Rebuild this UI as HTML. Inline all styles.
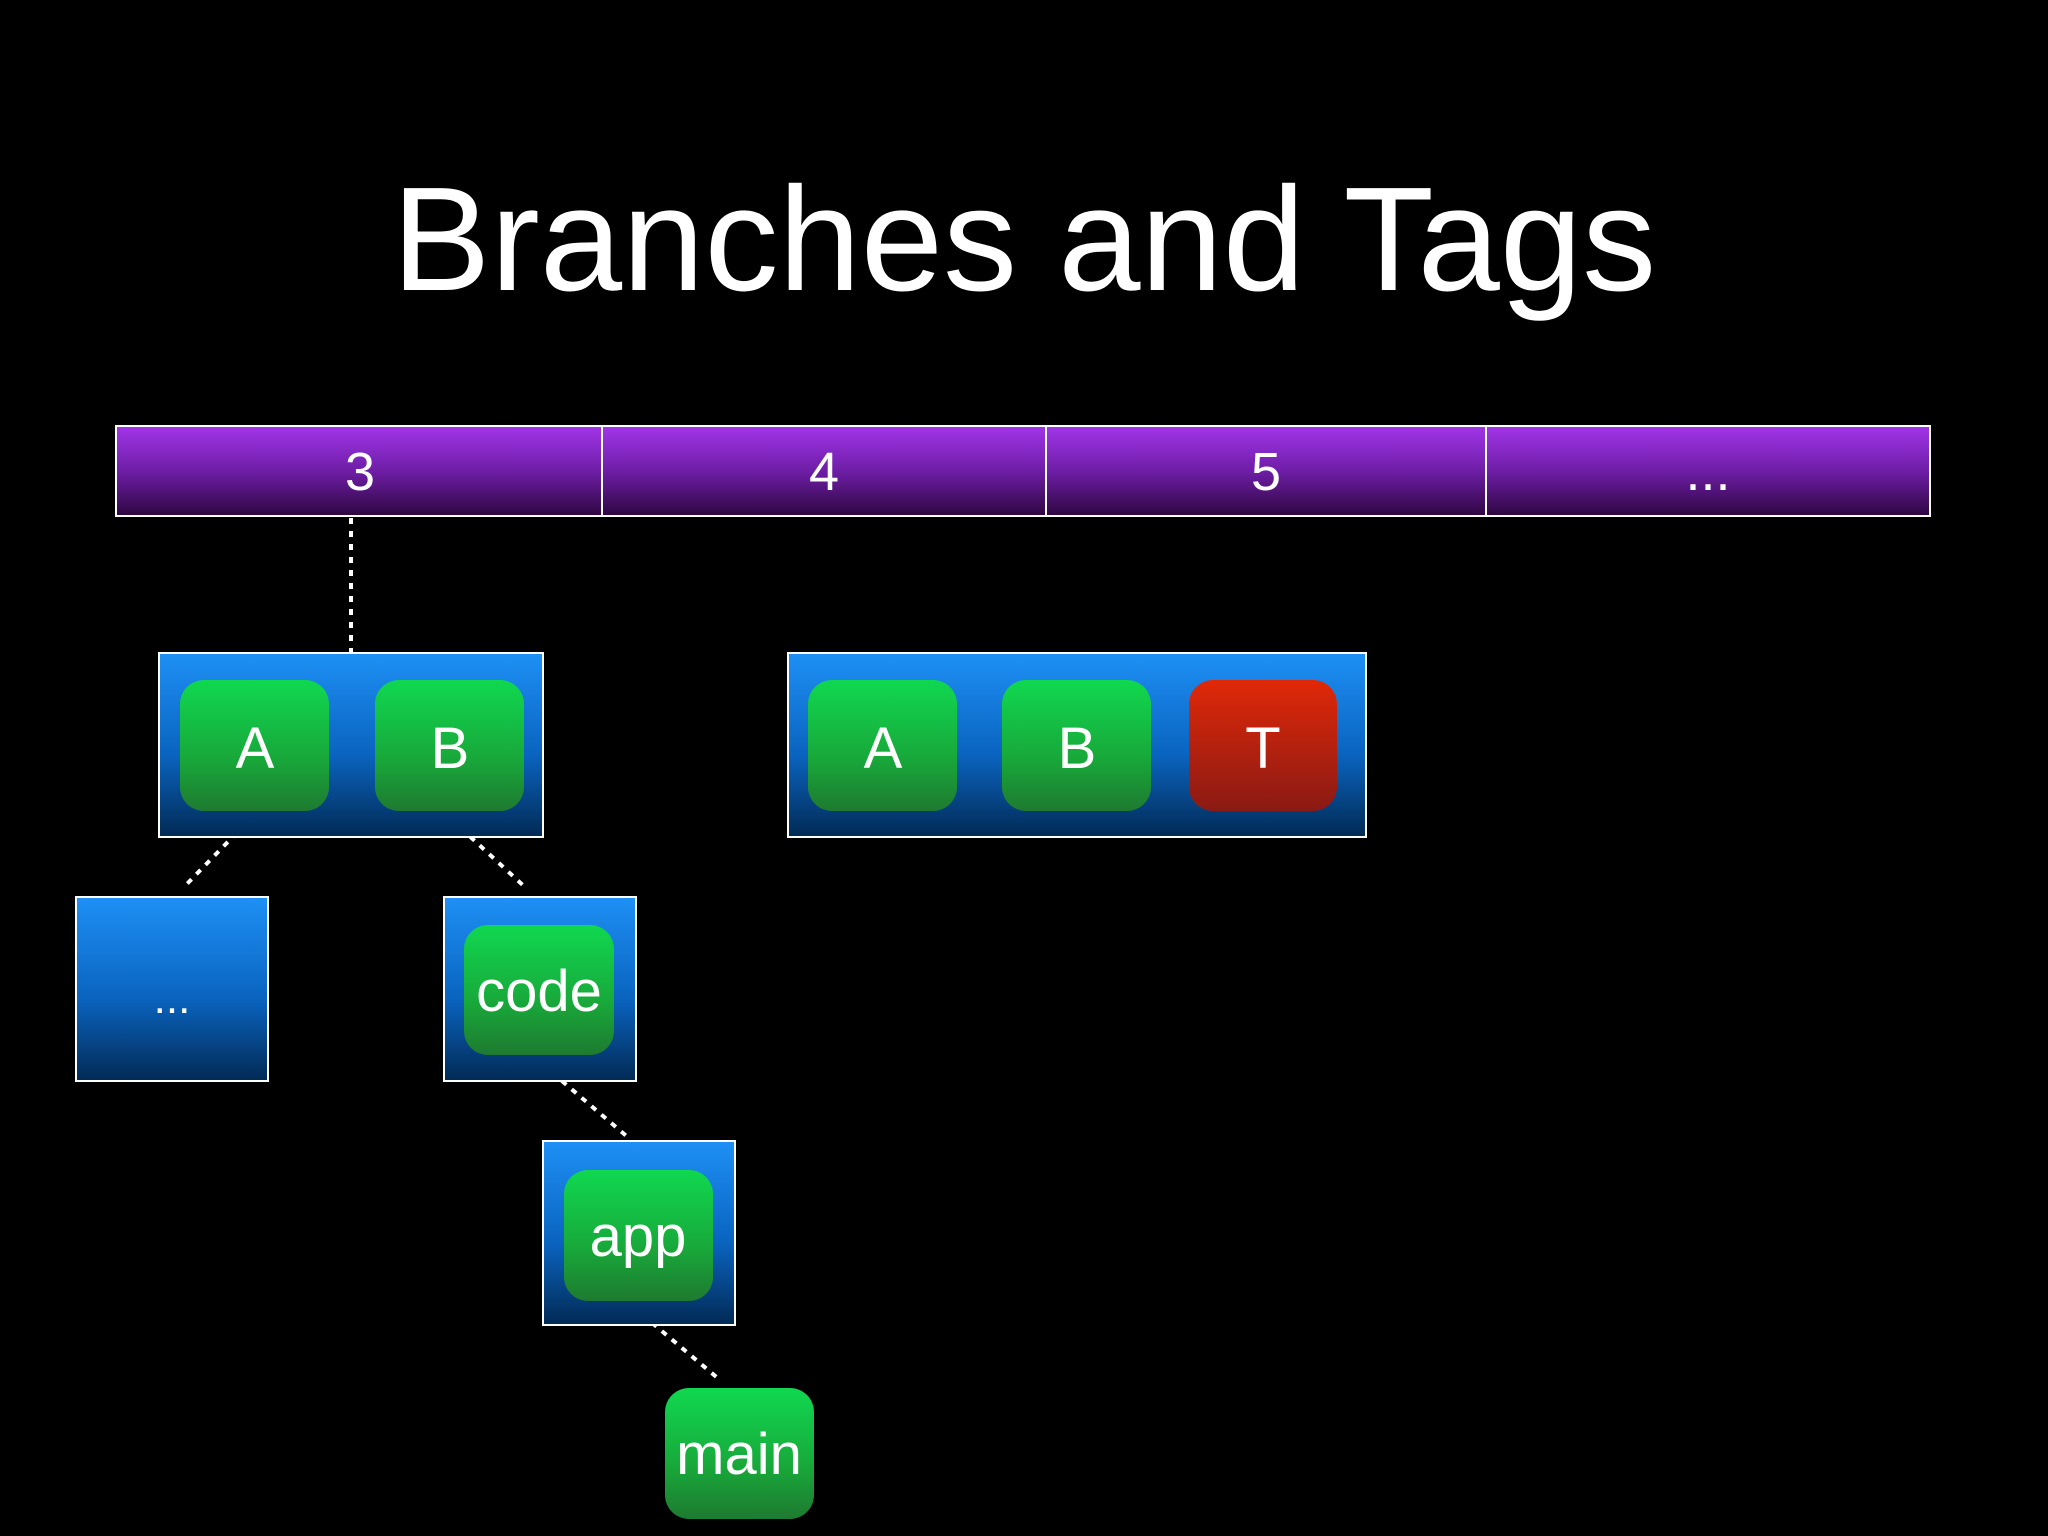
<!DOCTYPE html>
<html><head><meta charset="utf-8"><style>
html,body{margin:0;padding:0;background:#000;}
svg{display:block}
text{font-family:"Liberation Sans",sans-serif;fill:#fff;}
</style></head><body>
<svg width="2048" height="1536" viewBox="0 0 2048 1536" xmlns="http://www.w3.org/2000/svg">
<defs>
<linearGradient id="pur" x1="0" y1="0" x2="0" y2="1"><stop offset="0" stop-color="#a235ea"/><stop offset="0.5" stop-color="#6e1ea6"/><stop offset="1" stop-color="#2e0640"/></linearGradient>
<linearGradient id="blu" x1="0" y1="0" x2="0" y2="1"><stop offset="0" stop-color="#1e90f5"/><stop offset="0.55" stop-color="#0a64c0"/><stop offset="1" stop-color="#022a55"/></linearGradient>
<linearGradient id="grn" x1="0" y1="0" x2="0" y2="1"><stop offset="0" stop-color="#10d850"/><stop offset="0.6" stop-color="#18a83a"/><stop offset="1" stop-color="#1e7a30"/></linearGradient>
<linearGradient id="red" x1="0" y1="0" x2="0" y2="1"><stop offset="0" stop-color="#e02808"/><stop offset="1" stop-color="#8a1a14"/></linearGradient>
</defs>
<text x="1024" y="290" font-size="148" text-anchor="middle">Branches and Tags</text>

<rect x="116" y="426" width="1814" height="90" fill="url(#pur)" stroke="#fff" stroke-width="2"/>
<line x1="602" y1="426" x2="602" y2="516" stroke="#fff" stroke-width="2"/>
<line x1="1046" y1="426" x2="1046" y2="516" stroke="#fff" stroke-width="2"/>
<line x1="1486" y1="426" x2="1486" y2="516" stroke="#fff" stroke-width="2"/>
<g font-size="54" text-anchor="middle">
<text x="360" y="490">3</text><text x="824" y="490">4</text><text x="1266" y="490">5</text><text x="1708" y="490">...</text>
</g>

<g stroke="#fff" stroke-width="4" stroke-dasharray="6,7" fill="none">
<line x1="351" y1="518" x2="351" y2="653"/>
<line x1="255" y1="814" x2="183" y2="888"/>
<line x1="451" y1="819" x2="526" y2="888"/>
<line x1="542" y1="1064" x2="630" y2="1139"/>
<line x1="632" y1="1306" x2="720" y2="1380"/>
</g>

<g fill="url(#blu)" stroke="#fff" stroke-width="2">
<rect x="159" y="653" width="384" height="184"/>
<rect x="788" y="653" width="578" height="184"/>
<rect x="76" y="897" width="192" height="184"/>
<rect x="444" y="897" width="192" height="184"/>
<rect x="543" y="1141" width="192" height="184"/>
</g>
<g fill="url(#grn)">
<rect x="180" y="680" width="149" height="131" rx="24"/>
<rect x="375" y="680" width="149" height="131" rx="24"/>
<rect x="808" y="680" width="149" height="131" rx="24"/>
<rect x="1002" y="680" width="149" height="131" rx="24"/>
<rect x="464" y="925" width="150" height="130" rx="24"/>
<rect x="564" y="1170" width="149" height="131" rx="24"/>
<rect x="665" y="1388" width="149" height="131" rx="24"/>
</g>
<rect x="1189" y="680" width="148" height="131" rx="24" fill="url(#red)"/>
<g font-size="58" text-anchor="middle">
<text x="255" y="768">A</text><text x="450" y="768">B</text>
<text x="883" y="768">A</text><text x="1077" y="768">B</text><text x="1263" y="768">T</text>
<text x="539" y="1011">code</text>
<text x="638" y="1256">app</text>
<text x="739" y="1474">main</text>
<text x="172" y="1013" font-size="44">...</text>
</g>
</svg>
</body></html>
